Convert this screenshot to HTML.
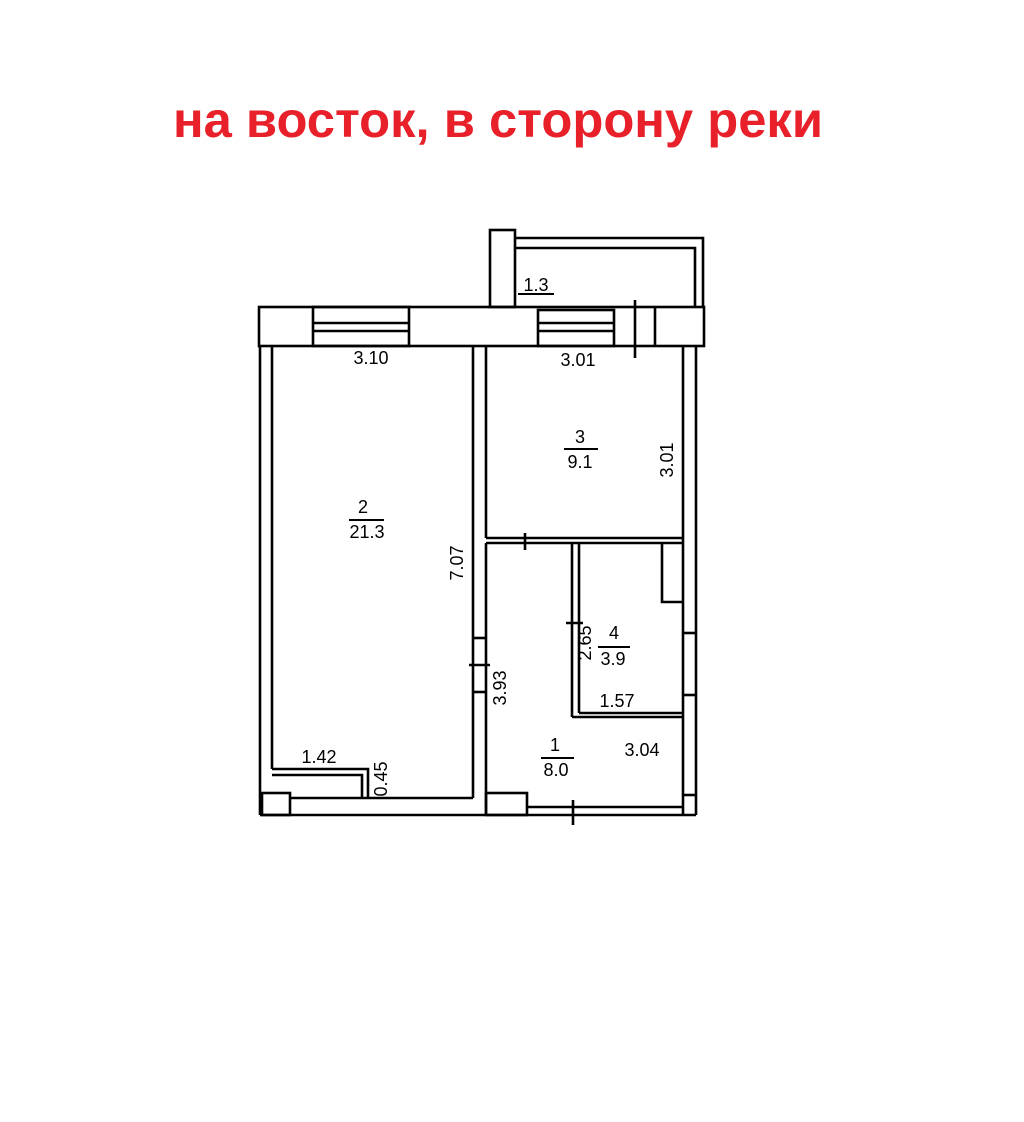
<!DOCTYPE html>
<html><head><meta charset="utf-8"><style>
html,body{margin:0;padding:0;background:#fff;}
svg{display:block;}
text{font-family:"Liberation Sans",sans-serif;}
</style></head><body>
<svg width="1024" height="1122" viewBox="0 0 1024 1122" xmlns="http://www.w3.org/2000/svg">
<rect width="1024" height="1122" fill="#fff"/>
<text x="173" y="137" font-size="50" font-weight="bold" fill="#e8202a" textLength="650" lengthAdjust="spacingAndGlyphs">на восток, в сторону реки</text>
<g fill="none" stroke="#000" stroke-width="2.6">
<rect x="490" y="230" width="25" height="77"/>
<polyline points="515,238 703,238 703,307"/>
<polyline points="515,248 695,248 695,307"/>
<rect x="259" y="307" width="445" height="39"/>
<rect x="313" y="307" width="96" height="39"/>
<line x1="313" y1="323" x2="409" y2="323"/><line x1="313" y1="331" x2="409" y2="331"/>
<rect x="538" y="310" width="76" height="36"/>
<line x1="538" y1="323" x2="614" y2="323"/><line x1="538" y1="331" x2="614" y2="331"/>
<line x1="655" y1="307" x2="655" y2="346"/>
<line x1="635" y1="300" x2="635" y2="358"/>
<line x1="260" y1="346" x2="260" y2="815"/>
<line x1="272" y1="346" x2="272" y2="769"/>
<line x1="260" y1="815" x2="696" y2="815"/>
<line x1="290" y1="798" x2="473" y2="798"/>
<line x1="473" y1="346" x2="473" y2="798"/>
<line x1="486" y1="346" x2="486" y2="538"/>
<line x1="486" y1="543" x2="486" y2="815"/>
<line x1="473" y1="638" x2="486" y2="638"/><line x1="473" y1="692" x2="486" y2="692"/>
<line x1="469" y1="665" x2="490" y2="665"/>
<line x1="486" y1="538" x2="683" y2="538"/>
<line x1="486" y1="543" x2="683" y2="543"/>
<line x1="525" y1="533" x2="525" y2="550"/>
<line x1="683" y1="346" x2="683" y2="815"/>
<line x1="696" y1="346" x2="696" y2="815"/>
<line x1="683" y1="633" x2="696" y2="633"/><line x1="683" y1="695" x2="696" y2="695"/><line x1="683" y1="795" x2="696" y2="795"/>
<line x1="572" y1="543" x2="572" y2="717"/>
<line x1="579" y1="543" x2="579" y2="713"/>
<line x1="572" y1="717" x2="683" y2="717"/>
<line x1="579" y1="713" x2="683" y2="713"/>
<polyline points="662,543 662,602 683,602"/>
<line x1="566" y1="623" x2="583" y2="623"/>
<rect x="486" y="793" width="41" height="22"/>
<line x1="527" y1="807" x2="683" y2="807"/>
<line x1="573" y1="800" x2="573" y2="825"/>
<polyline points="272,769 368,769 368,798"/>
<polyline points="272,775 362,775 362,798"/>
<rect x="262" y="793" width="28" height="22"/>
</g>
<g font-size="18" fill="#000" text-anchor="middle">
<text x="536" y="291">1.3</text><line x1="518" y1="294" x2="554" y2="294" stroke="#000" stroke-width="2"/>
<text x="371" y="364">3.10</text>
<text x="578" y="366">3.01</text>
<text x="580" y="443">3</text><line x1="564" y1="449" x2="598" y2="449" stroke="#000" stroke-width="2"/>
<text x="580" y="468">9.1</text>
<text transform="translate(673,460) rotate(-90)">3.01</text>
<text x="363" y="513">2</text><line x1="349" y1="520" x2="384" y2="520" stroke="#000" stroke-width="2"/>
<text x="367" y="538">21.3</text>
<text transform="translate(463,563) rotate(-90)">7.07</text>
<text transform="translate(506,688) rotate(-90)">3.93</text>
<text transform="translate(591,643) rotate(-90)">2.65</text>
<text x="614" y="639">4</text><line x1="598" y1="647" x2="630" y2="647" stroke="#000" stroke-width="2"/>
<text x="613" y="665">3.9</text>
<text x="617" y="707">1.57</text>
<text x="555" y="751">1</text><line x1="541" y1="758" x2="574" y2="758" stroke="#000" stroke-width="2"/>
<text x="556" y="776">8.0</text>
<text x="642" y="756">3.04</text>
<text x="319" y="763">1.42</text>
<text transform="translate(387,779) rotate(-90)">0.45</text>
</g>
</svg>
</body></html>
